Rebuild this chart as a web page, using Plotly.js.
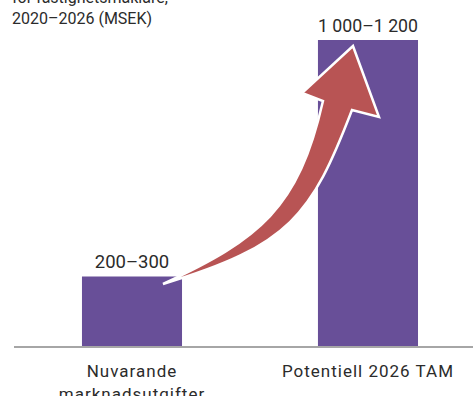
<!DOCTYPE html>
<html><head><meta charset="utf-8">
<script src="https://cdn.plot.ly/plotly-3.0.1.min.js"></script>
<style>html,body{margin:0;padding:0;background:#fff}#chart{width:473px;height:396px}</style>
</head><body><div id="chart"></div>
<script>
const categories = ["Nuvarande<br>marknadsutgifter", "Potentiell 2026 TAM"];
const values = [250, 1100];            // midpoints of ranges (MSEK)
const rangeLabels = ["200–300", "1 000–1 200"];
const titleText = "för fastighetsmäklare,<br>2020–2026 (MSEK)";

const xpos = categories.map((c, i) => i);
const tickText = categories.map(c => c.split("<br>")
  .map(s => '<span style="letter-spacing:1px">' + s + '</span>').join("<br>"));

// curved arrow decoration (data coordinates)
const arrowPath =
  "M 0.1314,222.9 C 0.5407,384.6 0.7055,493.2 0.8093,880.7 " +
  "L 0.7203,909.5 L 0.9364,1078.4 L 1.0466,823.2 L 0.9322,848.4 " +
  "C 0.7614,471.6 0.6695,359.8 0.1314,222.9 Z";

const trace = {
  type: "bar",
  x: xpos,
  y: values,
  width: 0.424,
  marker: {color: "#684f98"},
  text: rangeLabels,
  textposition: "outside",
  textfont: {family: "Roboto, sans-serif", size: 18.5, color: "#2b2b2b"},
  cliponaxis: false,
  hoverinfo: "none"
};

const layout = {
  width: 473, height: 396,
  margin: {l: 14, r: 0, t: 30, b: 50},
  paper_bgcolor: "#fff", plot_bgcolor: "#fff",
  font: {family: "Roboto, sans-serif", color: "#2b2b2b"},
  showlegend: false,
  xaxis: {
    type: "linear", range: [-0.5, 1.445],
    tickvals: xpos, ticktext: tickText,
    showgrid: false, zeroline: false,
    showline: true, linecolor: "#a6a6a6", linewidth: 2,
    ticks: "", ticklabelstandoff: 9,
    tickfont: {size: 17, color: "#2b2b2b"}
  },
  yaxis: {
    range: [0, 1136], visible: false, showgrid: false, zeroline: false
  },
  shapes: [{
    type: "path", xref: "x", yref: "y", path: arrowPath,
    fillcolor: "#b85454", line: {color: "#ffffff", width: 2.5}, layer: "above"
  }],
  annotations: [{
    xref: "paper", yref: "paper", x: -0.0087, y: 1, xanchor: "left", yanchor: "bottom",
    text: titleText, showarrow: false, align: "left",
    font: {size: 16, color: "#2b2b2b"}
  }]
};

Plotly.newPlot("chart", [trace], layout, {staticPlot: true, displayModeBar: false});
</script></body></html>
